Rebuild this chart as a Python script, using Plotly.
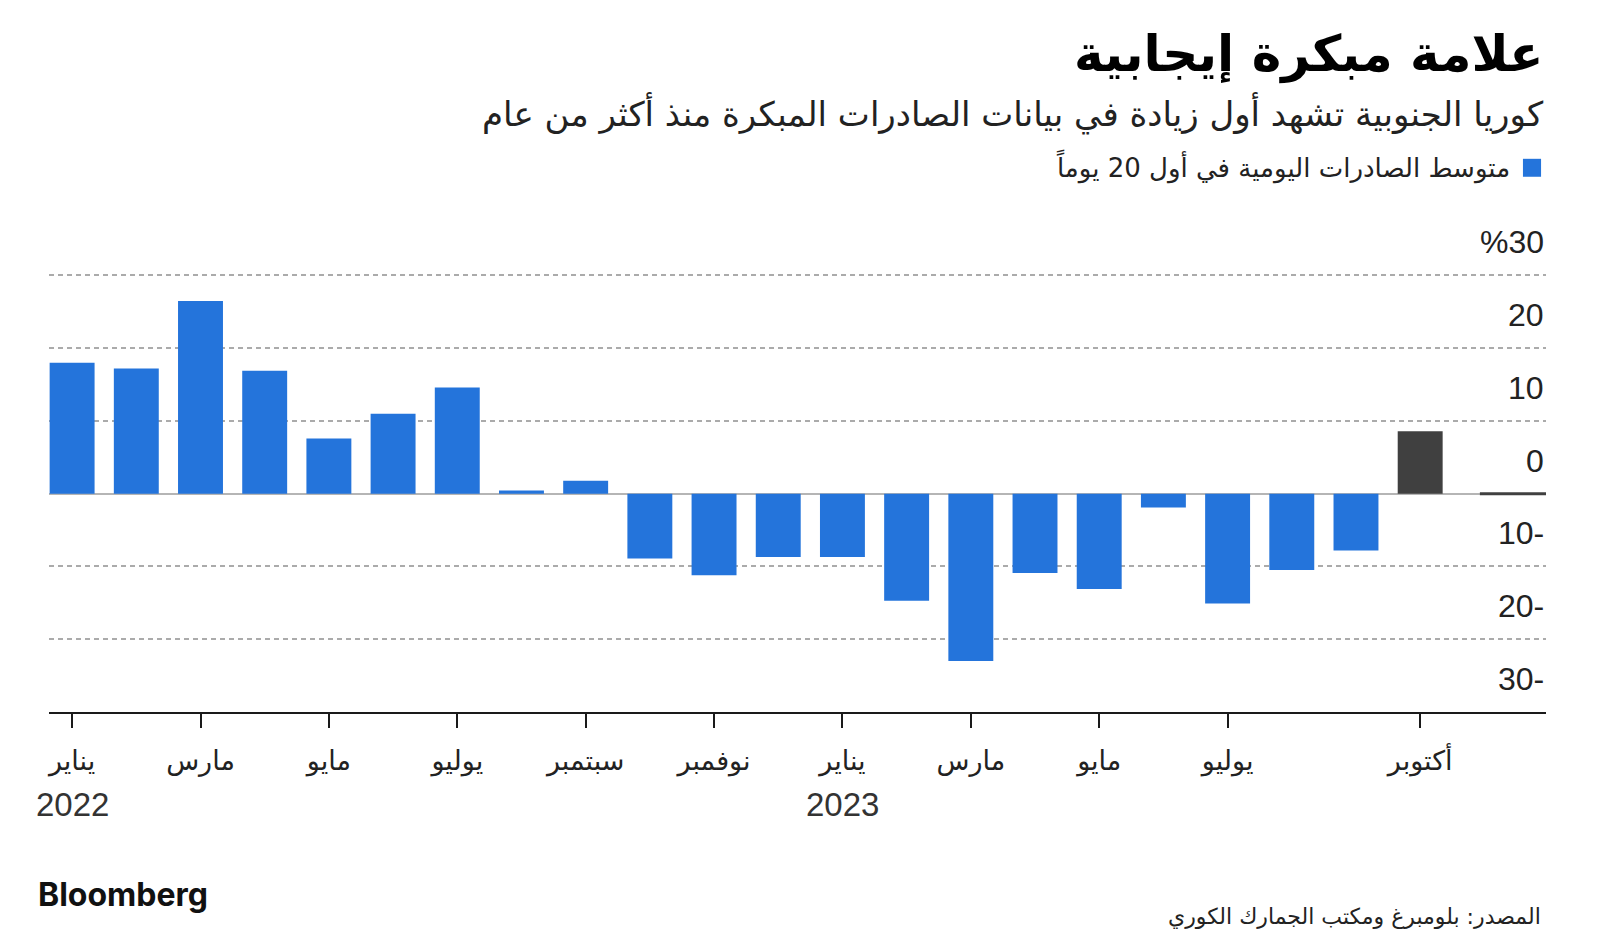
import plotly.graph_objects as go

# ---- data ----
months = ["2022-01", "2022-02", "2022-03", "2022-04", "2022-05", "2022-06",
          "2022-07", "2022-08", "2022-09", "2022-10", "2022-11", "2022-12",
          "2023-01", "2023-02", "2023-03", "2023-04", "2023-05", "2023-06",
          "2023-07", "2023-08", "2023-09", "2023-10"]
values = [18.0, 17.2, 26.5, 16.9, 7.6, 11.0, 14.6, 0.45, 1.8, -8.9, -11.2, -8.7,
          -8.7, -14.7, -23.0, -10.9, -13.1, -1.9, -15.1, -10.5, -7.8, 8.6]
tick_idx = [0, 2, 4, 6, 8, 10, 12, 14, 16, 18, 21]
tick_text = ["يناير", "مارس", "مايو", "يوليو", "سبتمبر", "نوفمبر",
             "يناير", "مارس", "مايو", "يوليو", "أكتوبر"]
year_idx = [0, 12]
year_text = ["2022", "2023"]
y_ticks = [30, 20, 10, 0, -10, -20, -30]
y_tick_text = ["%30", "20", "10", "0", "10-", "20-", "30-"]

title = "علامة مبكرة إيجابية"
subtitle = "كوريا الجنوبية تشهد أول زيادة في بيانات الصادرات المبكرة منذ أكثر من عام"
legend_text = "متوسط الصادرات اليومية في أول 20 يوماً"
source = "المصدر: بلومبرغ ومكتب الجمارك الكوري"

BLUE = "#2474DB"
DARK = "#404040"
AR = "DejaVu Sans"

x = list(range(len(values)))
colors = [BLUE] * (len(values) - 1) + [DARK]

fig = go.Figure()
fig.add_trace(go.Bar(x=x, y=values, width=0.7, marker=dict(color=colors, line_width=0),
                     hoverinfo="skip", showlegend=False))

fig.update_layout(
    width=1600, height=949,
    paper_bgcolor="white", plot_bgcolor="white",
    margin=dict(l=49, r=54, t=274, b=237),
    bargap=0.3,
    xaxis=dict(range=[-0.36, 22.96], tickmode="array", tickvals=tick_idx, ticktext=tick_text,
               ticks="outside", ticklen=14, tickwidth=1.5, tickcolor="#1a1a1a",
               ticklabelstandoff=10,
               showline=True, linecolor="#1a1a1a", linewidth=2, showgrid=False,
               zeroline=False, tickfont=dict(family=AR, size=27, color="#222")),
    yaxis=dict(range=[-30, 30.2], tickmode="array", tickvals=y_ticks, showticklabels=False,
               showgrid=True, gridcolor="#ababab", gridwidth=2, griddash="5px,4px",
               zeroline=True, zerolinecolor="#b5b5b5", zerolinewidth=2, showline=False),
)

# y labels above gridlines, right aligned
for v, t in zip(y_ticks, y_tick_text):
    fig.add_annotation(x=1, xref="paper", xanchor="right", y=v, yref="y", yanchor="middle",
                       yshift=33, text=t, showarrow=False,
                       font=dict(family="Liberation Sans", size=32, color="#222"))

# years
for i, t in zip(year_idx, year_text):
    fig.add_annotation(x=i, xref="x", y=-0.2105, yref="paper", yanchor="middle",
                       text=t, showarrow=False,
                       font=dict(family="Liberation Sans", size=33, color="#333"))

# dark end segment on zero line
fig.add_shape(type="line", xref="x", yref="y", x0=21.93, x1=22.96, y0=0, y1=0,
              line=dict(color="#404040", width=3))

# title / subtitle / legend
fig.add_annotation(x=1, xref="paper", xanchor="right", y=1.501, yref="paper", yanchor="middle",
                   text="<b>" + title + "</b>", showarrow=False,
                   font=dict(family=AR, size=50, color="#000"))
fig.add_annotation(x=1, xref="paper", xanchor="right", y=1.366, yref="paper", yanchor="middle",
                   text=subtitle, showarrow=False,
                   font=dict(family=AR, size=34, color="#222"))
fig.add_shape(type="rect", xref="paper", yref="paper", x0=0.9846, x1=0.9967, y0=1.222, y1=1.263,
              fillcolor=BLUE, line_width=0)
fig.add_annotation(x=0.9773, xref="paper", xanchor="right", y=1.245, yref="paper", yanchor="middle",
                   text=legend_text, showarrow=False,
                   font=dict(family=AR, size=26, color="#222"))

# footer
fig.add_annotation(x=-0.0087, xref="paper", xanchor="left", y=-0.4165, yref="paper", yanchor="middle",
                   text="<b>Bloomberg</b>", showarrow=False,
                   font=dict(family="Inter", size=32, color="#111"))
fig.add_annotation(x=0.998, xref="paper", xanchor="right", y=-0.467, yref="paper", yanchor="middle",
                   text=source, showarrow=False,
                   font=dict(family=AR, size=22, color="#222"))

fig.write_html("out.html", config={"displayModeBar": False},
               post_script="document.body.style.margin='0';")
